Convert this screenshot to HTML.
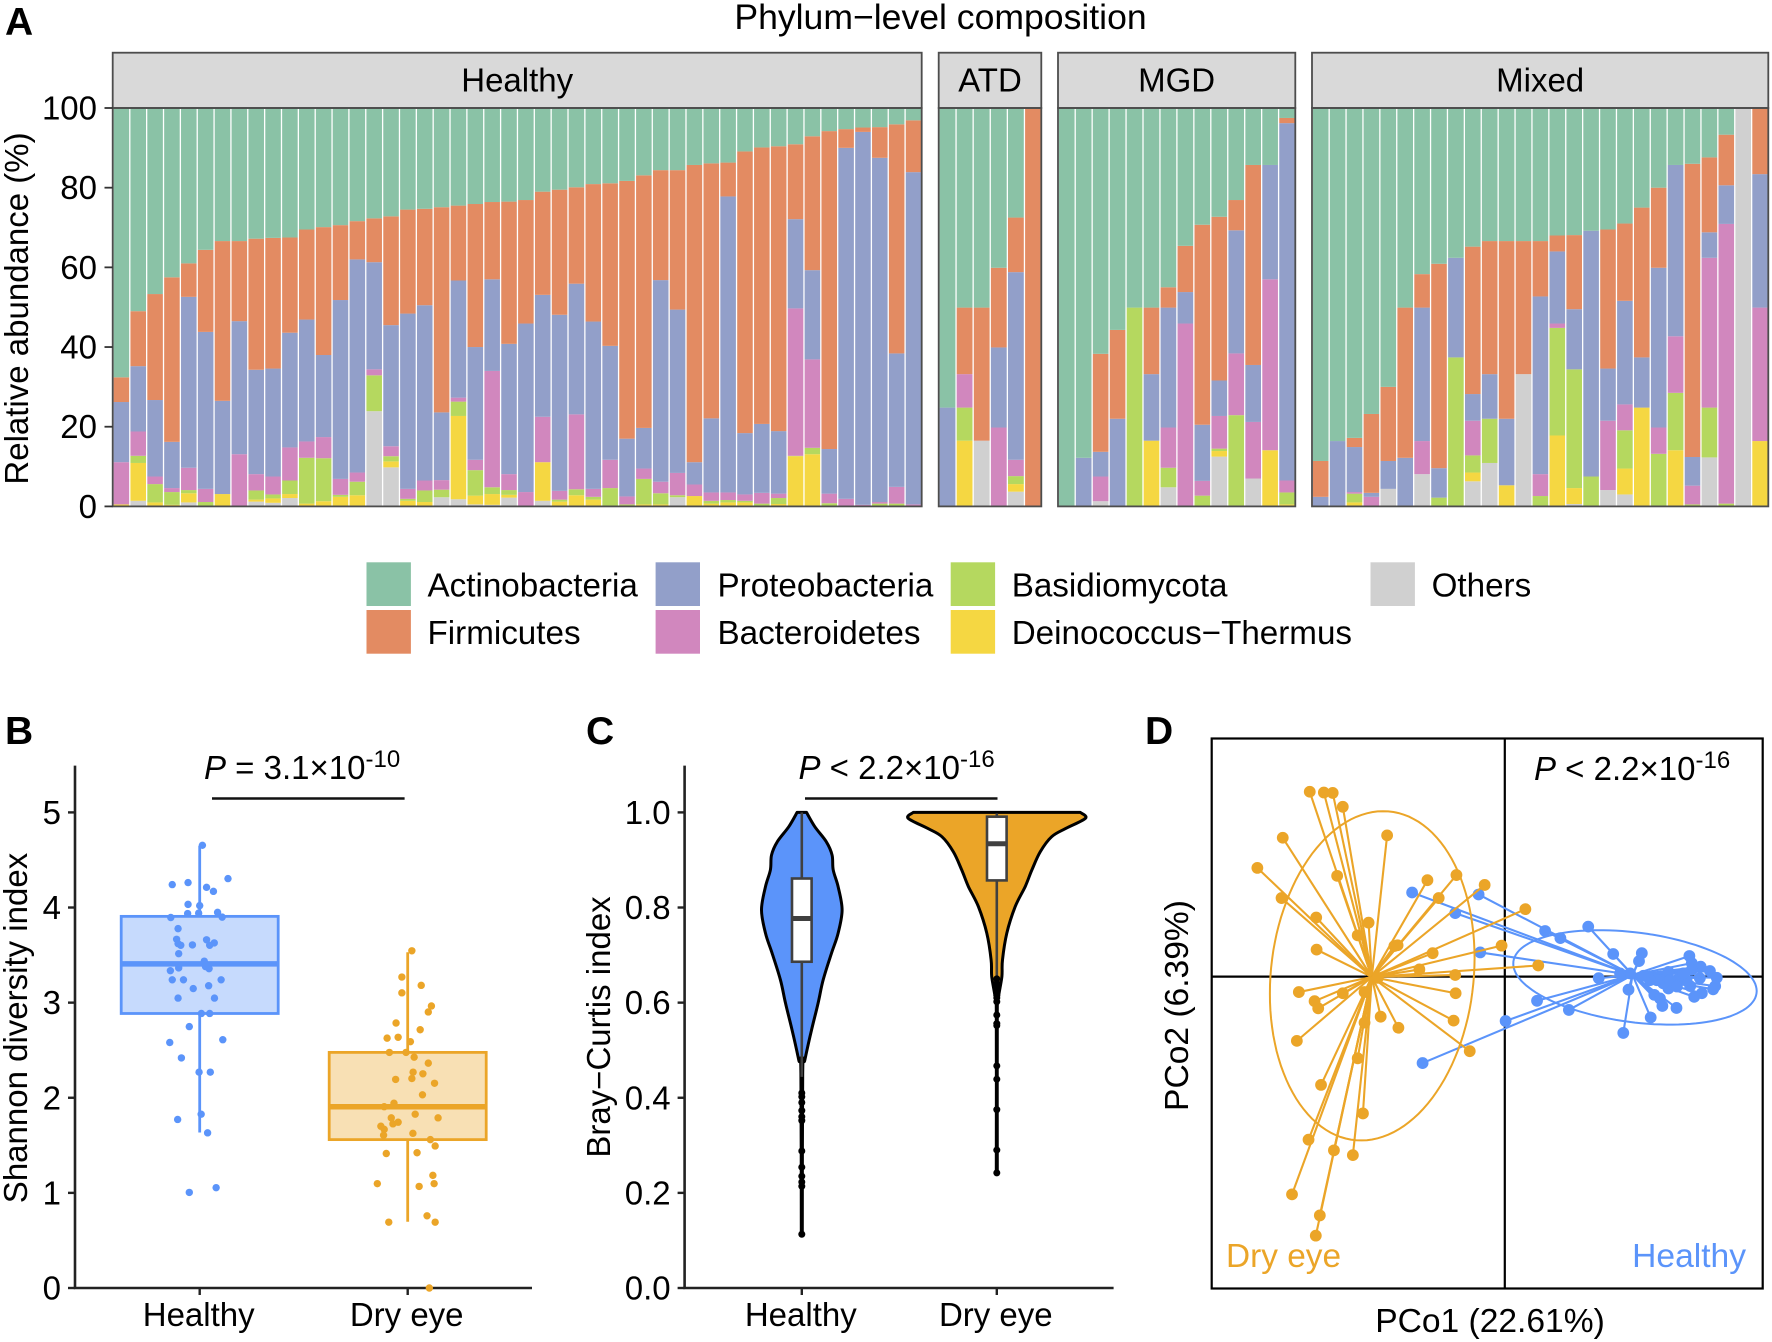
<!DOCTYPE html>
<html lang="en">
<head>
<meta charset="utf-8">
<title>Microbiome composition and diversity</title>
<style>
html,body{margin:0;padding:0;background:#fff;width:1772px;height:1342px;overflow:hidden}
svg{display:block}
text{font-family:"Liberation Sans",sans-serif;fill:#000}
</style>
</head>
<body>
<svg id="figure" xmlns="http://www.w3.org/2000/svg" width="1772" height="1342" viewBox="0 0 1772 1342">
<rect x="0" y="0" width="1772" height="1342" fill="#fff"/>
<text x="5" y="35" font-size="39" font-weight="bold">A</text>
<text x="5" y="744" font-size="39" font-weight="bold">B</text>
<text x="586" y="744" font-size="39" font-weight="bold">C</text>
<text x="1145" y="744" font-size="39" font-weight="bold">D</text>
<text x="940.5" y="29" font-size="35.6" text-anchor="middle">Phylum−level composition</text>
<text transform="translate(28,308.5) rotate(-90)" font-size="33" text-anchor="middle">Relative abundance (%)</text>
<text transform="translate(27,1028) rotate(-90)" font-size="33" text-anchor="middle">Shannon diversity index</text>
<text transform="translate(610,1027) rotate(-90)" font-size="33" text-anchor="middle">Bray−Curtis index</text>
<text transform="translate(1188,1005.5) rotate(-90)" font-size="33.6" text-anchor="middle">PCo2 (6.39%)</text>
<text x="1490" y="1332" font-size="33.6" text-anchor="middle">PCo1 (22.61%)</text>
<text x="204" y="779" font-size="33"><tspan font-style="italic">P</tspan> = 3.1×10<tspan dy="-12" font-size="24">-10</tspan></text>
<line x1="212" y1="798.5" x2="404.6" y2="798.5" stroke="#111" stroke-width="2.6"/>
<text x="798.5" y="779" font-size="33"><tspan font-style="italic">P</tspan> &lt; 2.2×10<tspan dy="-12" font-size="24">-16</tspan></text>
<line x1="805" y1="798.5" x2="997.5" y2="798.5" stroke="#111" stroke-width="2.6"/>
<text x="1534" y="780" font-size="33"><tspan font-style="italic">P</tspan> &lt; 2.2×10<tspan dy="-12" font-size="24">-16</tspan></text>
<g id="layer-a"></g>
<g id="layer-legend"></g>
<g id="layer-b"></g>
<g id="layer-c"></g>
<g id="layer-d"></g>
</svg>
<script>
// ---------- Panel A data (percent) ----------
const compositionTicks = [0, 20, 40, 60, 80, 100];
const phylumNames = ['Others', 'Deinococcus−Thermus', 'Basidiomycota', 'Bacteroidetes', 'Proteobacteria', 'Firmicutes', 'Actinobacteria'];

const healthyOthers = [0,1.4,0,0,1,0,0,0,1.2,.9,2.1,0,0,0,0,23.9,9.8,0,0,2.3,1.8,.5,.4,2.2,0,1.4,0,0,0,0,0,0,0,2.3,0,0,0,0,0,0,0,0,0,0,0,0,0,0];
const healthyDeino = [.5,9.5,1,.4,2.3,0,3.1,0,.5,1.1,1,.7,1.3,2.4,2.8,0,1.5,1.4,1.1,0,20.9,2.2,2.7,.7,0,9.7,1.2,2.8,1.7,0,0,.5,.5,0,2.6,.7,1,1,0,.6,12.6,13.1,0,0,0,0,0,0];
const healthyBasidio = [0,1.8,4.6,3.2,.8,1.1,0,0,2.3,1,3.4,11.5,10.8,.5,3.4,9,1.3,.5,2.9,1.9,3.6,6.4,1.7,1.2,0,0,.5,1.5,.7,4.6,.5,6.4,2.8,.5,0,.7,.6,.4,.7,1.5,.1,1.6,.8,0,0,.7,.7,0];
const healthyBacter = [10.6,6.1,1.9,1,5.6,3.3,0,13.1,4.1,4.5,8.3,4.1,5.3,4,2.3,1.5,2.5,2.5,2.5,2.4,1,2.6,29.2,4,3.6,11.4,2.2,18.8,2,7.1,2,2.6,2.9,5.6,2.9,2.1,1.9,1.6,2.7,1.1,37,22.2,2.4,1.9,.4,.4,4.2,.5];
const healthyProteo = [15.1,16.4,19.2,11.6,42.9,39.4,23.4,33.4,26.2,27.1,28.8,30.6,20.6,44.9,53.5,26.9,30.4,44,44,17,29.4,28.3,23,32.7,42.3,30.6,44.2,32.8,42,28.6,14.5,10.2,50.6,41,5.6,18.6,74.3,15.4,17.3,15.7,22.4,22.4,11.2,88.1,93.6,86.4,33.5,83.4];
const healthyFirmi = [6.2,13.8,26.6,41.3,8.4,20.6,40.1,20.1,32.9,32.8,23.9,22.6,32.1,18.8,9.6,11,27.3,26.1,24.2,51.5,18.8,35.9,19.4,35.7,31,25.9,31.4,24.2,34.5,40.8,64.7,63.4,27.6,35,74.6,64,8.5,70.7,69.4,71.5,18.8,33.6,79.8,4.7,1.1,7.7,57.5,13];
const healthyActino = [67.6,51,46.7,42.5,39,35.6,33.4,33.4,32.8,32.6,32.5,30.5,29.9,29.4,28.4,27.7,27.2,25.5,25.3,24.9,24.5,24.1,23.6,23.5,23.1,21,20.5,19.9,19.1,18.9,18.3,16.9,15.6,15.6,14.3,13.9,13.7,10.9,9.9,9.6,9.1,7.1,5.8,5.3,4.9,4.8,4.1,3.1];

const atdOthers = [0,0,16.5,0,3.7,0];
const atdDeino = [0,16.5,0,0,1.9,0];
const atdBasidio = [0,8.3,0,0,2,0];
const atdBacter = [0,8.4,0,19.8,4.1,0];
const atdProteo = [24.8,0,0,20.1,47.1,0];
const atdFirmi = [0,16.7,33.4,20,13.7,100];
const atdActino = [75.2,50.1,50.1,40.1,27.5,0];

const mgdOthers = [0,0,1.3,0,0,0,4.8,0,0,12.5,0,7,0,0];
const mgdDeino = [0,0,0,0,0,16.5,0,0,0,1.4,0,0,14.1,.5];
const mgdBasidio = [0,0,0,0,49.9,0,4.9,0,2.7,.6,22.9,0,0,3];
const mgdBacter = [0,0,6.2,0,0,0,10.1,45.9,3.7,8.2,15.5,14.2,42.9,3];
const mgdProteo = [0,12.2,6.2,22,0,16.7,30.1,7.9,14.1,8.9,30.9,14.3,28.7,89.7];
const mgdFirmi = [0,0,24.6,22.3,0,16.7,5.1,11.6,50.2,41.1,7.6,50.2,0,1.3];
const mgdActino = [100,87.8,61.7,55.7,50.1,50.1,45,34.6,29.3,27.3,23.1,14.3,14.3,2.5];

const mixedOthers = [0,0,0,0,4.4,0,8.1,0,0,6.3,10.9,0,33.2,0,0,.6,0,4.1,3,0,0,0,0,12.3,0,100,0];
const mixedDeino = [0,0,1,0,0,0,0,0,0,2.2,0,5.3,0,0,17.8,4,0,0,6.5,24.8,0,14.1,0,0,0,0,16.4];
const mixedBasidio = [0,0,2.2,0,0,0,0,2.2,37.4,4.3,11.1,0,0,2.6,27,29.8,7.5,0,9.6,0,13.2,14.4,.5,12.5,.7,0,0];
const mixedBacter = [0,0,.4,2.4,0,0,8.3,0,0,8.7,0,0,0,5.5,1.1,0,0,17.4,6.5,0,6.6,14.2,4.7,37.6,70.2,0,33.5];
const mixedProteo = [2.4,16.4,11.3,1,7,12.2,33.5,7.4,25,6.7,11.2,16.7,0,44.6,18.1,15.1,61.7,13.1,26,12.6,40.1,43,7.2,6.4,9.7,0,33.5];
const mixedFirmi = [9,0,2.3,19.8,18.6,37.7,8.4,51.3,0,37,33.4,44.6,33.4,13.9,4,18.6,0,34.9,19.4,37.6,20.1,0,73.6,18.8,12.7,0,16.6];
const mixedActino = [88.6,83.6,82.8,76.8,70,50.1,41.7,39.1,37.6,34.8,33.4,33.4,33.4,33.4,32,31.9,30.8,30.5,29,25,20,14.3,14,12.4,6.7,0,0];

// ---------- Panel B data ----------
const shannonTicks = [0, 1, 2, 3, 4, 5];
const groupLabels = ['Healthy', 'Dry eye'];
const shannonHealthy = [4.654,4.304,4.241,4.262,4.212,4.17,4.033,4.02,3.937,3.941,3.949,3.895,3.899,3.778,3.666,3.661,3.628,3.62,3.603,3.607,3.603,3.515,3.436,3.378,3.357,3.336,3.365,3.24,3.24,3.24,3.178,3.148,3.048,3.048,2.886,2.886,2.748,2.61,2.581,2.419,2.269,2.269,1.827,1.772,1.631,1.055,1.005];
const shannonHealthyJitter = [.013,.136,-.132,-.056,.033,.066,-.056,0,-.058,-.005,.086,-.139,.108,-.104,-.111,.033,.07,-.104,-.091,-.035,.048,-.101,.022,.028,.045,-.141,-.101,-.132,-.078,.103,.043,-.031,-.104,.071,.008,.048,-.05,.111,-.144,-.088,-.003,.051,.007,-.106,.038,.079,-.05];
const shannonDry = [3.545,3.269,3.182,3.103,2.965,2.902,2.786,2.715,2.627,2.636,2.59,2.477,2.477,2.427,2.364,2.269,2.252,2.202,2.193,2.152,2.031,1.943,1.906,1.827,1.789,1.789,1.743,1.726,1.701,1.668,1.606,1.626,1.56,1.493,1.422,1.414,1.184,1.097,1.097,1.068,.759,.692,.692,0];
const shannonDryJitter = [.02,-.028,.065,-.028,.114,.099,-.056,.06,-.099,-.046,.013,-.088,-.008,.031,.099,.026,.073,.02,-.058,.129,.071,-.066,-.113,.036,-.079,.146,-.046,-.071,-.129,-.113,-.116,.025,.109,.132,.045,-.103,.121,-.146,.127,.055,.093,-.091,.132,.104];
const shannonHealthyBox = [1.635, 2.886, 3.407, 3.907, 4.65];
const shannonDryBox = [.696, 1.56, 1.906, 2.477, 3.53];

// ---------- Panel C data ----------
const brayTicks = [0, .2, .4, .6, .8, 1];
const violinHealthyLevels = [1,.97,.938,.91,.879,.844,.795,.746,.704,.648,.599,.542,.479,.452,.113];
const violinHealthyDensity = [.053,.147,.278,.342,.354,.41,.455,.41,.335,.241,.184,.109,.034,.01,.006];
const violinDryLevels = [1,.9875,.966,.949,.917,.879,.844,.802,.746,.69,.655,.612,.585,.242];
const violinDryDensity = [.943,1,.775,.62,.49,.396,.32,.208,.113,.064,.057,.019,.006,.006];
const brayHealthyBox = [.444, .686, .777, .861, 1];
const brayDryBox = [.652, .857, .934, .991, .998];
const brayHealthyOutliers = [.41,.402,.39,.373,.36,.352,.288,.254,.235,.223,.214,.113];
const brayDryOutliers = [.65,.64,.63,.625,.62,.615,.61,.602,.574,.556,.552,.467,.439,.375,.29,.242];

// ---------- Panel D data ----------
const dryPco1 = [-.484,-.449,-.427,-.402,-.551,-.292,-.614,-.416,-.192,-.12,-.05,-.164,-.554,-.468,.051,-.338,-.365,-.274,-.266,-.467,-.008,-.179,-.212,.083,-.123,-.511,-.402,-.472,-.463,-.348,-.122,-.308,-.127,-.264,-.348,-.516,-.087,-.365,-.456,-.352,-.487,-.424,-.377,-.528,-.459,-.469,-.315];
const dryPco2 = [.466,.464,.463,.428,.35,.356,.274,.254,.243,.256,.231,.198,.198,.149,.17,.136,.104,.077,.079,.068,.078,.059,.018,.028,.004,-.039,-.042,-.062,-.08,-.039,-.042,-.101,-.111,-.129,-.116,-.162,-.188,-.206,-.273,-.345,-.411,-.438,-.45,-.549,-.602,-.653,-.003];
const healthyPco1 = [-.23,-.065,-.123,-.061,-.204,.1,.138,.207,.269,.34,.333,.233,.311,.286,.307,.08,.159,.002,.294,.362,.391,.426,.371,.385,.406,.458,.464,.486,.509,.526,.522,.517,.489,.47,.46,.393,.406,.385,.464,.484,.451,.427,.41,.377,.36,.344,.427,.443];
const healthyPco2 = [.212,.207,.16,.061,-.218,.115,.097,.126,.057,.059,.039,-.004,.008,.008,-.033,-.061,-.084,-.112,-.142,-.103,-.074,-.079,-.046,-.055,-.03,.052,.034,.025,.014,-.003,-.024,-.032,-.042,-.051,-.024,-.017,.012,-.009,.017,-.004,-.009,-.009,-.009,-.009,-.009,.002,-.025,.008];
const dryCentroid = [-.33, -.001];
const healthyCentroid = [.317, .004];
const dryEllipse = [-.329, .002, .254, .415, .108];
const healthyEllipse = [.323, -.002, .302, .119, -.29];

// ---------- Helpers ----------
const NS = 'http://www.w3.org/2000/svg';
const COLORS = ['#D0D0D0', '#F5D742', '#B5D85F', '#D187BE', '#929FC9', '#E38B62', '#8AC2A6'];
const BLUE = '#5B94FA';
const ORANGE = '#EBA528';
function make(parent, tag, attrs, content) {
  const node = document.createElementNS(NS, tag);
  for (const k in attrs) node.setAttribute(k, attrs[k]);
  if (content !== undefined) node.textContent = content;
  parent.appendChild(node);
  return node;
}
function curveThrough(pts) {
  let d = '';
  for (let i = 0; i < pts.length - 1; i++) {
    const p0 = pts[Math.max(i - 1, 0)], p1 = pts[i], p2 = pts[i + 1], p3 = pts[Math.min(i + 2, pts.length - 1)];
    const c1x = p1[0] + (p2[0] - p0[0]) / 6, c1y = p1[1] + (p2[1] - p0[1]) / 6;
    const c2x = p2[0] - (p3[0] - p1[0]) / 6, c2y = p2[1] - (p3[1] - p1[1]) / 6;
    d += ' C' + c1x.toFixed(1) + ' ' + c1y.toFixed(1) + ' ' + c2x.toFixed(1) + ' ' + c2y.toFixed(1) + ' ' + p2[0].toFixed(1) + ' ' + p2[1].toFixed(1);
  }
  return d;
}
let el;

// ---------- Panel A ----------
const layerA = document.getElementById('layer-a');
const yA = v => 506.4 - v * 3.984;
const facetList = [
  {key: 'healthy', label: 'Healthy', left: 112.7, right: 921.7, series: [healthyOthers, healthyDeino, healthyBasidio, healthyBacter, healthyProteo, healthyFirmi, healthyActino]},
  {key: 'atd', label: 'ATD', left: 938.7, right: 1041.3, series: [atdOthers, atdDeino, atdBasidio, atdBacter, atdProteo, atdFirmi, atdActino]},
  {key: 'mgd', label: 'MGD', left: 1058, right: 1295.3, series: [mgdOthers, mgdDeino, mgdBasidio, mgdBacter, mgdProteo, mgdFirmi, mgdActino]},
  {key: 'mixed', label: 'Mixed', left: 1312, right: 1768.3, series: [mixedOthers, mixedDeino, mixedBasidio, mixedBacter, mixedProteo, mixedFirmi, mixedActino]}
];
for (const facet of facetList) {
  const n = facet.series[0].length;
  const band = (facet.right - facet.left) / n;
  for (let i = 0; i < n; i++) {
    let base = 0;
    for (let s = 0; s < facet.series.length; s++) {
      const v = facet.series[s][i];
      if (v > 0) {
        el = make(layerA, 'rect', {x: (facet.left + i * band + 0.9).toFixed(2), y: yA(base + v).toFixed(2), width: (band - 1.3).toFixed(2), height: (v * 3.984).toFixed(2), fill: COLORS[s]});
        
        
      }
      base += v;
    }
  }
  el = make(layerA, 'rect', {x: facet.left, y: 52.7, width: facet.right - facet.left, height: 55.3, fill: '#D9D9D9', stroke: '#4d4d4d', 'stroke-width': 1.8});
  
  
  el = make(layerA, 'text', {x: (facet.left + facet.right) / 2, y: 91.5, 'font-size': 33, 'text-anchor': 'middle'}, facet.label);
  
  
  el = make(layerA, 'rect', {x: facet.left, y: 108, width: facet.right - facet.left, height: 398.4, fill: 'none', stroke: '#4d4d4d', 'stroke-width': 1.8});
  
  
}
for (const t of compositionTicks) {
  el = make(layerA, 'line', {x1: 104.5, x2: 112.7, y1: yA(t), y2: yA(t), stroke: '#333', 'stroke-width': 1.8});
  
  
  el = make(layerA, 'text', {x: 97, y: yA(t) + 11.5, 'font-size': 33, 'text-anchor': 'end'}, String(t));
  
  
}

// ---------- Legend ----------
const layerLegend = document.getElementById('layer-legend');
const legendSlots = [
  [6, 366.5, 562.3, 427.5, 596.5], [5, 366.5, 610, 427.5, 644],
  [4, 655.6, 562.3, 717.5, 596.5], [3, 655.6, 610, 717.5, 644],
  [2, 950.7, 562.3, 1011.7, 596.5], [1, 950.7, 610, 1011.7, 644],
  [0, 1370.5, 562.3, 1431.6, 596.5]
];
for (const slot of legendSlots) {
  el = make(layerLegend, 'rect', {x: slot[1], y: slot[2], width: 44.4, height: 43.7, fill: COLORS[slot[0]]});
  
  
  el = make(layerLegend, 'text', {x: slot[3], y: slot[4], 'font-size': 33.2}, phylumNames[slot[0]]);
  
  
}

// ---------- Shared axes for B and C ----------
function drawAxes(layer, axisX, endX, yFn, ticks, fmt, catX) {
  let a = make(layer, 'line', {x1: axisX, x2: axisX, y1: 765.6, y2: 1288, stroke: '#222', 'stroke-width': 2.6});
  
  
  a = make(layer, 'line', {x1: axisX - 1.3, x2: endX, y1: 1288, y2: 1288, stroke: '#222', 'stroke-width': 2.6});
  
  
  for (const t of ticks) {
    a = make(layer, 'line', {x1: axisX - 7, x2: axisX, y1: yFn(t), y2: yFn(t), stroke: '#222', 'stroke-width': 2.4});
    
    
    a = make(layer, 'text', {x: axisX - 14, y: yFn(t) + 11.5, 'font-size': 33, 'text-anchor': 'end'}, fmt(t));
    
    
  }
  groupLabels.forEach((label, i) => {
    a = make(layer, 'line', {x1: catX(i), x2: catX(i), y1: 1288, y2: 1295, stroke: '#222', 'stroke-width': 2.4});
    
    
    a = make(layer, 'text', {x: catX(i) - 1, y: 1326, 'font-size': 33, 'text-anchor': 'middle'}, label);
    
    
  });
}

// ---------- Panel B ----------
const layerB = document.getElementById('layer-b');
const yB = v => 1288 - v * 95.12;
const xB = c => 199.7 + c * 208;
drawAxes(layerB, 75, 532, yB, shannonTicks, t => String(t), xB);
const shannonGroups = [
  {box: shannonHealthyBox, values: shannonHealthy, jitter: shannonHealthyJitter, color: BLUE, fillOpacity: .35},
  {box: shannonDryBox, values: shannonDry, jitter: shannonDryJitter, color: ORANGE, fillOpacity: .35}
];
shannonGroups.forEach((g, c) => {
  el = make(layerB, 'line', {x1: xB(c), x2: xB(c), y1: yB(g.box[0]), y2: yB(g.box[1]), stroke: g.color, 'stroke-width': 2.8});
  
  
  el = make(layerB, 'line', {x1: xB(c), x2: xB(c), y1: yB(g.box[3]), y2: yB(g.box[4]), stroke: g.color, 'stroke-width': 2.8});
  
  
  el = make(layerB, 'rect', {x: xB(c) - 78.5, y: yB(g.box[3]), width: 157, height: yB(g.box[1]) - yB(g.box[3]), fill: g.color, 'fill-opacity': g.fillOpacity, stroke: g.color, 'stroke-width': 2.8});
  
  
  el = make(layerB, 'line', {x1: xB(c) - 78.5, x2: xB(c) + 78.5, y1: yB(g.box[2]), y2: yB(g.box[2]), stroke: g.color, 'stroke-width': 5.5});
  
  
  g.values.forEach((v, i) => {
    el = make(layerB, 'circle', {cx: xB(c + g.jitter[i]), cy: yB(v), r: 3.7, fill: g.color});
    
    
  });
});

// ---------- Panel C ----------
const layerC = document.getElementById('layer-c');
const yC = v => 1288 - v * 475.6;
const xC = c => 801.8 + c * 195;
const VIOLIN_MAX = 88.6;
drawAxes(layerC, 684.6, 1113.6, yC, brayTicks, t => t.toFixed(1), xC);
const brayGroups = [
  {levels: violinHealthyLevels, density: violinHealthyDensity, box: brayHealthyBox, outliers: brayHealthyOutliers, color: BLUE},
  {levels: violinDryLevels, density: violinDryDensity, box: brayDryBox, outliers: brayDryOutliers, color: ORANGE}
];
brayGroups.forEach((g, c) => {
  const right = g.levels.map((l, i) => [xC(c) + g.density[i] * VIOLIN_MAX, yC(l)]);
  const left = g.levels.map((l, i) => [xC(c) - g.density[i] * VIOLIN_MAX, yC(l)]).reverse();
  const pathData = 'M' + right[0][0].toFixed(1) + ' ' + right[0][1].toFixed(1) + curveThrough(right) + ' L' + left[0][0].toFixed(1) + ' ' + left[0][1].toFixed(1) + curveThrough(left) + ' Z';
  el = make(layerC, 'path', {d: pathData, fill: g.color, stroke: '#000', 'stroke-width': 3, 'stroke-linejoin': 'round'});
  
  
  el = make(layerC, 'line', {x1: xC(c), x2: xC(c), y1: yC(g.box[0]), y2: yC(g.box[4]), stroke: '#404040', 'stroke-width': 2.6});
  
  
  el = make(layerC, 'rect', {x: xC(c) - 9.8, y: yC(g.box[3]), width: 19.6, height: yC(g.box[1]) - yC(g.box[3]), fill: '#fff', stroke: '#404040', 'stroke-width': 2.6});
  
  
  el = make(layerC, 'line', {x1: xC(c) - 9.8, x2: xC(c) + 9.8, y1: yC(g.box[2]), y2: yC(g.box[2]), stroke: '#404040', 'stroke-width': 5});
  
  
  g.outliers.forEach(v => {
    el = make(layerC, 'circle', {cx: xC(c), cy: yC(v), r: 3.5, fill: '#000'});
    
    
  });
});

// ---------- Panel D ----------
const layerD = document.getElementById('layer-d');
const xD = v => 1504.8 + v * 403;
const yD = v => 976.6 - v * 396.7;
el = make(layerD, 'rect', {x: 1211.7, y: 738.5, width: 551, height: 550, fill: 'none', stroke: '#000', 'stroke-width': 2.2});


el = make(layerD, 'line', {x1: xD(0), x2: xD(0), y1: 738.5, y2: 1288.5, stroke: '#000', 'stroke-width': 2.2});


el = make(layerD, 'line', {x1: 1211.7, x2: 1762.7, y1: yD(0), y2: yD(0), stroke: '#000', 'stroke-width': 2.2});


const pcoaGroups = [
  {p1: healthyPco1, p2: healthyPco2, centroid: healthyCentroid, ellipse: healthyEllipse, color: BLUE},
  {p1: dryPco1, p2: dryPco2, centroid: dryCentroid, ellipse: dryEllipse, color: ORANGE}
];
for (const g of pcoaGroups) {
  g.p1.forEach((v, i) => {
    el = make(layerD, 'line', {x1: xD(g.centroid[0]), y1: yD(g.centroid[1]), x2: xD(v), y2: yD(g.p2[i]), stroke: g.color, 'stroke-width': 2.1});
    
    
  });
  const e = g.ellipse;
  let d = '';
  for (let k = 0; k < 120; k++) {
    const t = k / 120 * 2 * Math.PI;
    const ex = e[0] + e[2] * Math.cos(t);
    const ey = e[1] + e[3] * (e[4] * Math.cos(t) + Math.sqrt(1 - e[4] * e[4]) * Math.sin(t));
    d += (k ? 'L' : 'M') + xD(ex).toFixed(1) + ' ' + yD(ey).toFixed(1);
  }
  el = make(layerD, 'path', {d: d + 'Z', fill: 'none', stroke: g.color, 'stroke-width': 2});
  
  
  g.p1.forEach((v, i) => {
    el = make(layerD, 'circle', {cx: xD(v), cy: yD(g.p2[i]), r: 5.9, fill: g.color});
    
    
  });
}
el = make(layerD, 'text', {x: 1226, y: 1267, 'font-size': 33.4, style: 'fill:' + ORANGE}, 'Dry eye');


el = make(layerD, 'text', {x: 1746, y: 1267, 'font-size': 33.6, 'text-anchor': 'end', style: 'fill:' + BLUE}, 'Healthy');


</script>
</body>
</html>
